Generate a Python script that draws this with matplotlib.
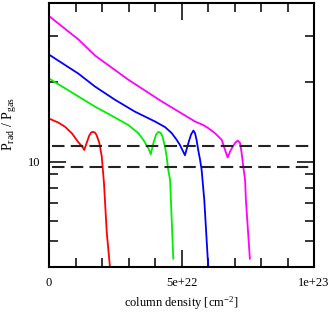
import matplotlib
matplotlib.use("Agg")
import matplotlib.pyplot as plt
import numpy as np
from matplotlib.ticker import FixedLocator, NullFormatter, FixedFormatter

plt.rcParams['font.family'] = ['Liberation Serif', 'DejaVu Serif']
plt.rcParams['mathtext.fontset'] = 'custom'
plt.rcParams['mathtext.rm'] = 'Liberation Serif'
plt.rcParams['mathtext.it'] = 'Liberation Serif:italic'

SCALE = 1e22  # x values below are in units of 1e22 cm^-2

red_x = [0.0, 0.35, 0.6, 0.86, 1.1, 1.26, 1.33, 1.42, 1.52, 1.6, 1.67, 1.74, 1.80, 1.90, 1.99, 2.075, 2.18, 2.31]
red_y = [14.6, 14.1, 13.6, 12.85, 11.9, 11.4, 11.1, 11.8, 12.6, 12.95, 13.0, 12.9, 12.6, 11.8, 10.5, 8.3, 5.4, 3.9]

green_x = [0.0, 1.736, 2.37, 2.99, 3.37, 3.56, 3.75, 3.84, 3.94, 4.04, 4.13, 4.21, 4.28, 4.38, 4.44, 4.50, 4.57, 4.60, 4.69]
green_y = [20.7, 16.2, 14.96, 13.8, 12.86, 12.12, 11.27, 10.7, 11.8, 12.7, 13.0, 12.9, 12.5, 11.4, 10.47, 9.32, 8.54, 7.17, 4.3]

blue_x = [0.0, 1.11, 1.736, 2.49, 3.245, 4.0, 4.38, 4.63, 4.82, 4.94, 5.13, 5.26, 5.36, 5.45, 5.51, 5.57, 5.63, 5.70, 5.76, 5.86, 5.99, 6.02]
blue_y = [25.5, 21.6, 19.3, 17.2, 15.5, 14.23, 13.55, 12.86, 12.12, 11.6, 10.6, 11.8, 12.7, 13.15, 12.85, 12.1, 11.1, 10.2, 9.32, 7.17, 4.3, 3.9]

magenta_x = [0.0, 1.11, 1.736, 2.99, 4.25, 5.51, 5.82, 6.01, 6.26, 6.52, 6.58, 6.74, 6.86, 7.02, 7.12, 7.21, 7.27, 7.33, 7.40, 7.43, 7.58]
magenta_y = [35.7, 29.1, 25.3, 20.5, 16.96, 14.23, 13.8, 13.43, 12.86, 12.12, 11.6, 10.4, 11.1, 11.8, 12.05, 11.8, 10.8, 9.6, 8.54, 7.17, 4.3]

dashed_levels = [11.53, 9.6]

x_major = [0, 5e22, 1e23]
x_major_labels = ['0', '5e+22', '1e+23']
x_minor = [i * 1e22 for i in range(11)]
y_major = [10]
y_major_labels = ['10']
y_minor = [4, 5, 6, 7, 8, 9, 20, 30, 40]

fig = plt.figure(figsize=(3.32, 3.13), dpi=100)
ax = fig.add_axes([49/332, 46/313, 265/332, 264/313])

for xs, ys, c in [(red_x, red_y, '#ff0000'), (green_x, green_y, '#00ee00'),
                  (blue_x, blue_y, '#0000ff'), (magenta_x, magenta_y, '#ff00ff')]:
    ax.plot(np.array(xs) * SCALE, ys, color=c, lw=1.3, solid_joinstyle='round')

for lvl in dashed_levels:
    ax.axhline(lvl, color='#222222', lw=1.5, dashes=(6, 3), xmin=0.01)

ax.set_yscale('log')
ax.set_xlim(0, 1e23)
ax.set_ylim(4, 40)

ax.xaxis.set_major_locator(FixedLocator(x_major))
ax.xaxis.set_major_formatter(FixedFormatter(x_major_labels))
ax.xaxis.set_minor_locator(FixedLocator(x_minor))
ax.yaxis.set_major_locator(FixedLocator(y_major))
ax.yaxis.set_major_formatter(FixedFormatter(y_major_labels))
ax.yaxis.set_minor_locator(FixedLocator(y_minor))
ax.yaxis.set_minor_formatter(NullFormatter())

ax.tick_params(which='both', direction='in', top=True, right=True, width=1.1, color='black')
ax.tick_params(which='major', length=12.5)
ax.tick_params(which='minor', length=6.5)
ax.tick_params(axis='x', which='major', labelsize=9, pad=7)
ax.tick_params(axis='y', which='major', labelsize=9, pad=6)

for s in ax.spines.values():
    s.set_linewidth(1.5)

ax.set_xlabel('column density [cm$^{-2}$]', fontsize=9, labelpad=4)
ax.set_ylabel('P$_{\\mathrm{rad}}$ / P$_{\\mathrm{gas}}$', fontsize=10)
ax.yaxis.set_label_coords(-0.115, 0.54)

fig.savefig('out.png', dpi=100)
